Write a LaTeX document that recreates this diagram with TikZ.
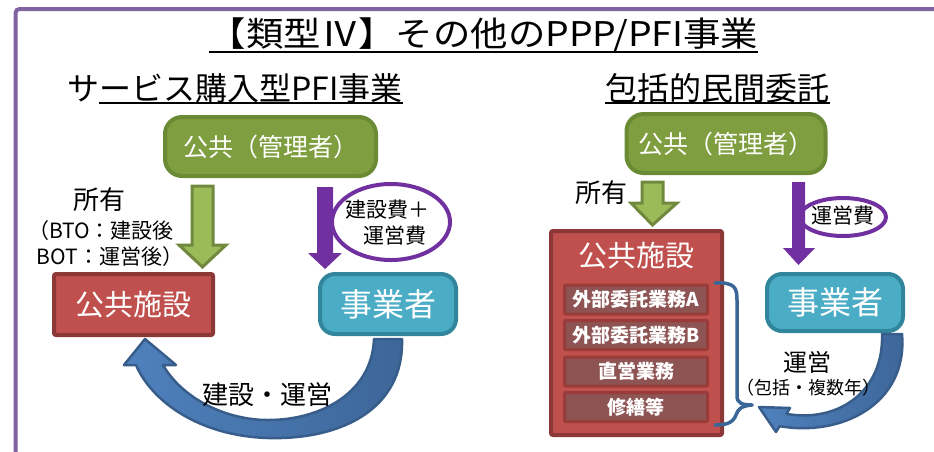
\documentclass[tikz,border=0pt]{standalone}
\usepackage{fontspec}
\usepackage{graphicx}
\setmainfont{Noto Sans CJK JP}
\usetikzlibrary{calc}
\definecolor{framec}{HTML}{8064A2}
\definecolor{gfill}{HTML}{7F9E3F}
\definecolor{gborder}{HTML}{6B8A34}
\definecolor{gafill}{HTML}{9BBB59}
\definecolor{gaborder}{HTML}{71893F}
\definecolor{rfill}{HTML}{C0504D}
\definecolor{rborder}{HTML}{8C3836}
\definecolor{ifill}{HTML}{8E5353}
\definecolor{iborder}{HTML}{993B39}
\definecolor{bfill}{HTML}{4BACC6}
\definecolor{bborder}{HTML}{31859C}
\definecolor{purp}{HTML}{7030A0}
\definecolor{cafill}{HTML}{4F81BD}
\definecolor{cafill2}{HTML}{3D6699}
\definecolor{caborder}{HTML}{385D8A}
\definecolor{brace}{HTML}{3A6698}
\newcommand{\fsz}[1]{\fontsize{#1}{#1}\selectfont}
\tikzset{
  lbl/.style={text=black, inner sep=0pt},
  uline/.style={black, line width=1.4pt},
  gbox/.style={draw=gborder, fill=gfill, line width=4pt, rounded corners=17pt, text=white, inner sep=0pt, font=\fsz{25}},
  rbox/.style={draw=rborder, fill=rfill, line width=4pt, rounded corners=2pt, text=white, inner sep=0pt, font=\fsz{29}},
  bbox/.style={draw=bborder, fill=bfill, line width=4pt, rounded corners=15pt, text=white, inner sep=0pt, font=\fsz{32}},
  ibox/.style={draw=iborder, fill=ifill, line width=3pt, rounded corners=1pt, text=white, inner sep=0pt, font=\bfseries\fsz{19}, minimum width=143pt, minimum height=29pt},
  garrow/.style={draw=gaborder, fill=gafill, line width=3pt, line join=miter},
  parrow/.style={fill=purp},
  pell/.style={draw=purp, line width=4pt},
  carrow/.style={draw=caborder, left color=cafill, right color=cafill2, line width=2.5pt, line join=round},
  bracestyle/.style={draw=brace, line width=3.5pt, line cap=round},
}
\begin{document}
\begin{tikzpicture}[x=1pt,y=-1pt]
\useasboundingbox (0,0) rectangle (934,451);
% frame
\draw[framec, line width=4pt, rounded corners=4pt] (15.5,460) -- (15.5,9) -- (945,9);
\coordinate (ulT) at (0,52);
\coordinate (ulS) at (0,103);
% titles
\node[lbl, font=\fsz{34}] (title) at (483.5,35) {\scalebox{1.1}[1]{【類型Ⅳ】その他のPPP/PFI事業}};
\draw[uline] (title.west |- ulT) -- (title.east |- ulT);
\node[lbl, font=\fsz{32}] (subL) at (235,88) {サービス購入型PFI事業};
\draw[uline] ([xshift=32pt]subL.west |- ulS) -- (subL.east |- ulS);
\node[lbl, font=\fsz{32}] (subR) at (717.5,88) {包括的民間委託};
\draw[uline] (subR.west |- ulS) -- (subR.east |- ulS);

% ===== left diagram =====
\node[gbox, minimum width=211pt, minimum height=59pt] (pubL) at (270.5,146.5) {公共（管理者）};
\node[rbox, minimum width=159pt, minimum height=61pt] (facL) at (133.5,304.5) {公共施設};
\node[bbox, minimum width=136pt, minimum height=60pt] (opL) at (388,304) {事業者};

% green block arrow
\draw[garrow] (192,186) -- (213,186) -- (213,245) -- (226,245) -- (202.5,267) -- (179,245) -- (192,245) -- cycle;
\node[lbl, font=\fsz{26}] (ownL) at (99,200) {所有};
\node[lbl, font=\fsz{21}] (bto) at (101,231) {（BTO：建設後};
\node[lbl, font=\fsz{21}] (bot) at (110,257) {BOT：運営後）};

% purple arrow + ellipse
\draw[pell] (391,222) ellipse [x radius=59pt, y radius=38pt];
\fill[parrow] (317,187) -- (333,187) -- (333,253) -- (342,253) -- (325,269) -- (308,253) -- (317,253) -- cycle;
\node[lbl, font=\fsz{21}] (costL1) at (387,210) {建設費＋};
\node[lbl, font=\fsz{21}] (costL2) at (395,236) {運営費};

% curved arrow
\draw[carrow] (402,339) .. controls (404,410) and (340,440) .. (268,438)
  .. controls (200,436) and (152,402) .. (136,365)
  -- (124,365) -- (145,339) -- (176,365) -- (163,365)
  .. controls (182,398) and (225,420) .. (268,420)
  .. controls (322,420) and (372,392) .. (374,339) -- cycle;
\node[lbl, font=\fsz{26}] (bldL) at (267,395) {建設・運営};

% ===== right diagram =====
\node[gbox, minimum width=199pt, minimum height=59pt] (pubR) at (726,143.5) {公共（管理者）};
\node[rbox, minimum width=171pt, minimum height=204pt] (facR) at (636.5,333) {};
\node[lbl, text=white, font=\fsz{29}] (facRt) at (636.5,256) {公共施設};
\node[ibox] (taskA) at (636,299.5) {外部委託業務A};
\node[ibox] (taskB) at (636,335) {外部委託業務B};
\node[ibox] (taskC) at (636,371.5) {直営業務};
\node[ibox] (taskD) at (636,407) {修繕等};
\node[bbox, minimum width=136pt, minimum height=57pt] (opR) at (835,302.5) {事業者};

\draw[garrow] (642,182) -- (663,182) -- (663,203) -- (677,203) -- (652.5,225) -- (631,203) -- (642,203) -- cycle;
\node[lbl, font=\fsz{26}] (ownR) at (601,193) {所有};

\draw[pell] (843,217) ellipse [x radius=43pt, y radius=19pt];
\fill[parrow] (792,182) -- (805,182) -- (805,248) -- (815,248) -- (798.5,265) -- (783,248) -- (792,248) -- cycle;
\node[lbl, font=\fsz{21}] (costR) at (843,216) {運営費};

% brace
\draw[bracestyle] (715,283) .. controls (735,282) and (737,288) .. (737,300) -- (737,396)
  .. controls (737,403) and (742,405) .. (752,405);
\draw[bracestyle] (752,405) .. controls (741,406) and (738,409) .. (736,415)
  .. controls (733,423) and (726,425) .. (715,425);

% curved arrow right
\draw[carrow] (902,334) .. controls (908,405) and (840,437) .. (779.6,426.1)
  -- (776,432) -- (759,407) -- (790,408) -- (786.4,413.9)
  .. controls (840,423) and (884,390) .. (882,334) -- cycle;
\node[lbl, font=\fsz{24}] (opTxt) at (807,362) {運営};
\node[lbl, font=\fsz{18}] (opTxt2) at (808,388) {（包括・複数年）};
\end{tikzpicture}
\end{document}
